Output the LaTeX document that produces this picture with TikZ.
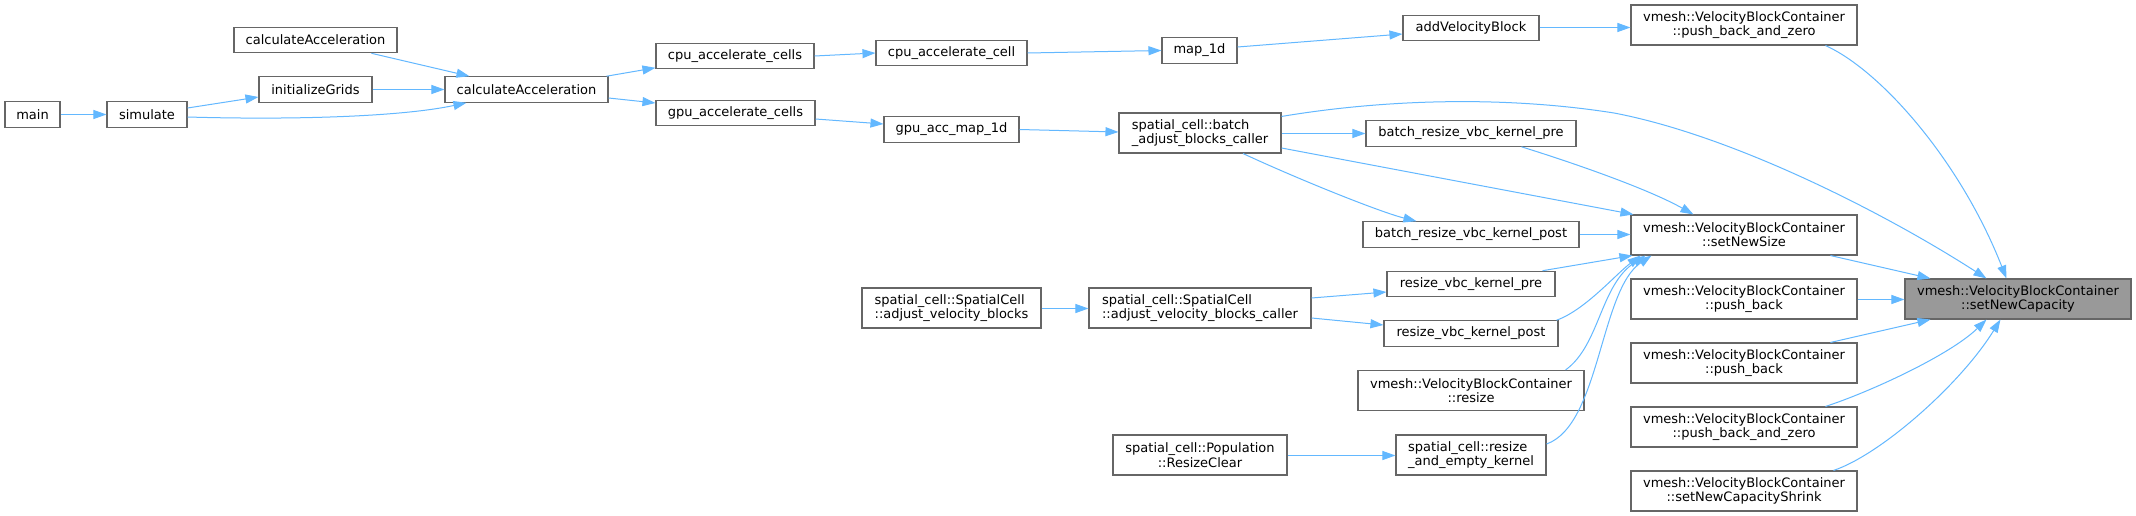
\documentclass[tikz,border=0pt]{standalone}
\usepackage{fontspec}
\setmainfont{DejaVu Sans}
\usetikzlibrary{arrows.meta,calc}
\definecolor{edgeblue}{HTML}{63B8FF}
\definecolor{boxgray}{HTML}{666666}
\definecolor{rootfill}{HTML}{999999}
\begin{document}
\begin{tikzpicture}[x=1pt,y=-1pt,
  box/.style={draw=boxgray, fill=white, line width=1.1pt, inner sep=0pt, minimum height=25.5pt, font=\fontsize{13}{14.3}\selectfont, align=center, text=black},
  tall/.style={minimum height=40pt},
  edge/.style={draw=edgeblue, line width=1pt, -{Triangle[length=13pt,width=9pt]}},
]
\fill[white] (0,0) rectangle (2136,516);
\useasboundingbox (0,0) rectangle (2136,516);

\node[box,minimum width=55pt] (main) at (32.5,114.5) {main};
\node[box,minimum width=80pt] (sim) at (147,114.5) {simulate};
\node[box,minimum width=163pt] (calcTop) at (315.5,40) {calculateAcceleration};
\node[box,minimum width=113pt] (initG) at (315.5,89.5) {initializeGrids};
\node[box,minimum width=163pt] (calc) at (526.5,89.5) {calculateAcceleration};
\node[box,minimum width=158pt] (cpuCells) at (735,56) {cpu\_accelerate\_cells};
\node[box,minimum width=159pt] (gpuCells) at (735.5,113) {gpu\_accelerate\_cells};
\node[box,minimum width=151pt] (cpuCell) at (951.5,53) {cpu\_accelerate\_cell};
\node[box,minimum width=135pt] (gpuMap) at (951.5,129.5) {gpu\_acc\_map\_1d};
\node[box,minimum width=75pt] (map1d) at (1199.5,50.5) {map\_1d};
\node[box,tall,minimum width=162pt,align=left] (batchAdj) at (1200,133) {spatial\_cell::batch\\\_adjust\_blocks\_caller};
\node[box,minimum width=136pt] (addVB) at (1471,28) {addVelocityBlock};
\node[box,tall,minimum width=226pt] (pbzTop) at (1744,25) {vmesh::VelocityBlockContainer\\::push\_back\_and\_zero};
\node[box,minimum width=210pt] (brPre) at (1471,133.5) {batch\_resize\_vbc\_kernel\_pre};
\node[box,minimum width=216pt] (brPost) at (1471,234.5) {batch\_resize\_vbc\_kernel\_post};
\node[box,tall,minimum width=226pt] (newSize) at (1744,235) {vmesh::VelocityBlockContainer\\::setNewSize};
\node[box,tall,minimum width=179pt,align=left] (adjVB) at (951.5,308) {spatial\_cell::SpatialCell\\::adjust\_velocity\_blocks};
\node[box,tall,minimum width=222pt,align=left] (adjCaller) at (1200,308) {spatial\_cell::SpatialCell\\::adjust\_velocity\_blocks\_caller};
\node[box,minimum width=168pt] (rPre) at (1471,284) {resize\_vbc\_kernel\_pre};
\node[box,minimum width=174pt] (rPost) at (1471,333.5) {resize\_vbc\_kernel\_post};
\node[box,tall,minimum width=226pt] (vResize) at (1471,390.5) {vmesh::VelocityBlockContainer\\::resize};
\node[box,tall,minimum width=174pt] (resizeClear) at (1200,455) {spatial\_cell::Population\\::ResizeClear};
\node[box,tall,minimum width=150pt,align=left] (rEmpty) at (1471,455) {spatial\_cell::resize\\\_and\_empty\_kernel};
\node[box,tall,minimum width=226pt] (pb1) at (1744,299) {vmesh::VelocityBlockContainer\\::push\_back};
\node[box,tall,minimum width=226pt] (pb2) at (1744,363) {vmesh::VelocityBlockContainer\\::push\_back};
\node[box,tall,minimum width=226pt] (pbz2) at (1744,427) {vmesh::VelocityBlockContainer\\::push\_back\_and\_zero};
\node[box,tall,minimum width=226pt] (shrink) at (1744,491) {vmesh::VelocityBlockContainer\\::setNewCapacityShrink};
\node[box,tall,minimum width=226pt,fill=rootfill] (newCap) at (2018,299) {vmesh::VelocityBlockContainer\\::setNewCapacity};

\draw[edge] (main.east) -- (sim.west);
\draw[edge] ($(sim.east)+(0,-6.5)$) -- ($(initG.west)+(0,7.5)$);
\draw[edge] ($(sim.east)+(0,2.5)$) .. controls (290,120) and (400,117) .. ($(calc.south west)+(22,0)$);
\draw[edge] ($(calcTop.south west)+(138,0)$) -- ($(calc.north west)+(25,0)$);
\draw[edge] (initG.east) -- (calc.west);
\draw[edge] ($(calc.north east)+(-2,0)$) -- ($(cpuCells.south west)+(0,-1.5)$);
\draw[edge] ($(calc.east)+(0,8.5)$) -- ($(gpuCells.west)+(0,-10)$);
\draw[edge] (cpuCells.east) -- (cpuCell.west);
\draw[edge] (cpuCell.east) -- (map1d.west);
\draw[edge] ($(map1d.east)+(0,-3.5)$) -- ($(addVB.west)+(0,6)$);
\draw[edge] ($(addVB.east)+(0,-0.5)$) -- ($(addVB.east -| pbzTop.west)+(0,-0.5)$);
\draw[edge] ($(pbzTop.south west)+(195,0)$) .. controls (1880,70) and (1960,160) .. ($(newCap.north west)+(102,0)$);
\draw[edge] ($(gpuCells.east)+(0,6)$) -- ($(gpuMap.west)+(0,-5.5)$);
\draw[edge] (gpuMap.east) -- ($(batchAdj.west)+(0,-1)$);
\draw[edge] ($(batchAdj.north east)+(0,4)$) .. controls (1380,100) and (1500,95) .. (1614,113) .. controls (1730,135) and (1880,210) .. ($(newCap.north west)+(82,0)$);
\draw[edge] ($(batchAdj.east)+(0,0.5)$) -- ($(batchAdj.east -| brPre.west)+(0,0.5)$);
\draw[edge] ($(batchAdj.east)+(0,15)$) -- ($(newSize.north west)+(3,0)$);
\draw[edge] ($(batchAdj.south)+(43,0)$) .. controls (1300,180) and (1380,212) .. ($(brPost.north west)+(54,0)$);
\draw[edge] ($(brPre.south west)+(156,0)$) .. controls (1580,165) and (1650,190) .. ($(newSize.north west)+(63,0)$);
\draw[edge] (brPost.east) -- (brPost.east -| newSize.west);
\draw[edge] ($(adjVB.east)+(0,0.5)$) -- ($(adjCaller.west)+(0,0.5)$);
\draw[edge] ($(adjCaller.east)+(0,-10)$) -- ($(rPre.west)+(0,8)$);
\draw[edge] ($(adjCaller.east)+(0,10)$) -- ($(rPost.west)+(0,-8.5)$);
\draw[edge] ($(rPre.north east)+(-13,0)$) -- ($(newSize.south west)+(2,0)$);
\draw[edge] ($(rPost.north east)+(-2,0)$) .. controls (1585,310) and (1615,275) .. ($(newSize.south west)+(10,0)$);
\draw[edge] ($(vResize.north east)+(-19,0)$) .. controls (1600,345) and (1600,285) .. ($(newSize.south west)+(15,0)$);
\draw[edge] ($(resizeClear.east)+(0,0.5)$) -- ($(rEmpty.west)+(0,0.5)$);
\draw[edge] ($(rEmpty.east)+(0,-11)$) .. controls (1600,425) and (1600,290) .. ($(newSize.south west)+(21,0)$);
\draw[edge] ($(newSize.south west)+(200,0)$) -- ($(newCap.north west)+(26,0)$);
\draw[edge] ($(pb1.east)+(0,0.5)$) -- ($(newCap.west)+(0,0.5)$);
\draw[edge] ($(pb2.north west)+(200,0)$) -- ($(newCap.south west)+(26,0)$);
\draw[edge] ($(pbz2.north west)+(195,0)$) .. controls (1870,392) and (1950,355) .. ($(newCap.south west)+(82,0)$);
\draw[edge] ($(shrink.north west)+(203,0)$) .. controls (1880,455) and (1960,385) .. ($(newCap.south west)+(96,0)$);
\end{tikzpicture}
\end{document}
